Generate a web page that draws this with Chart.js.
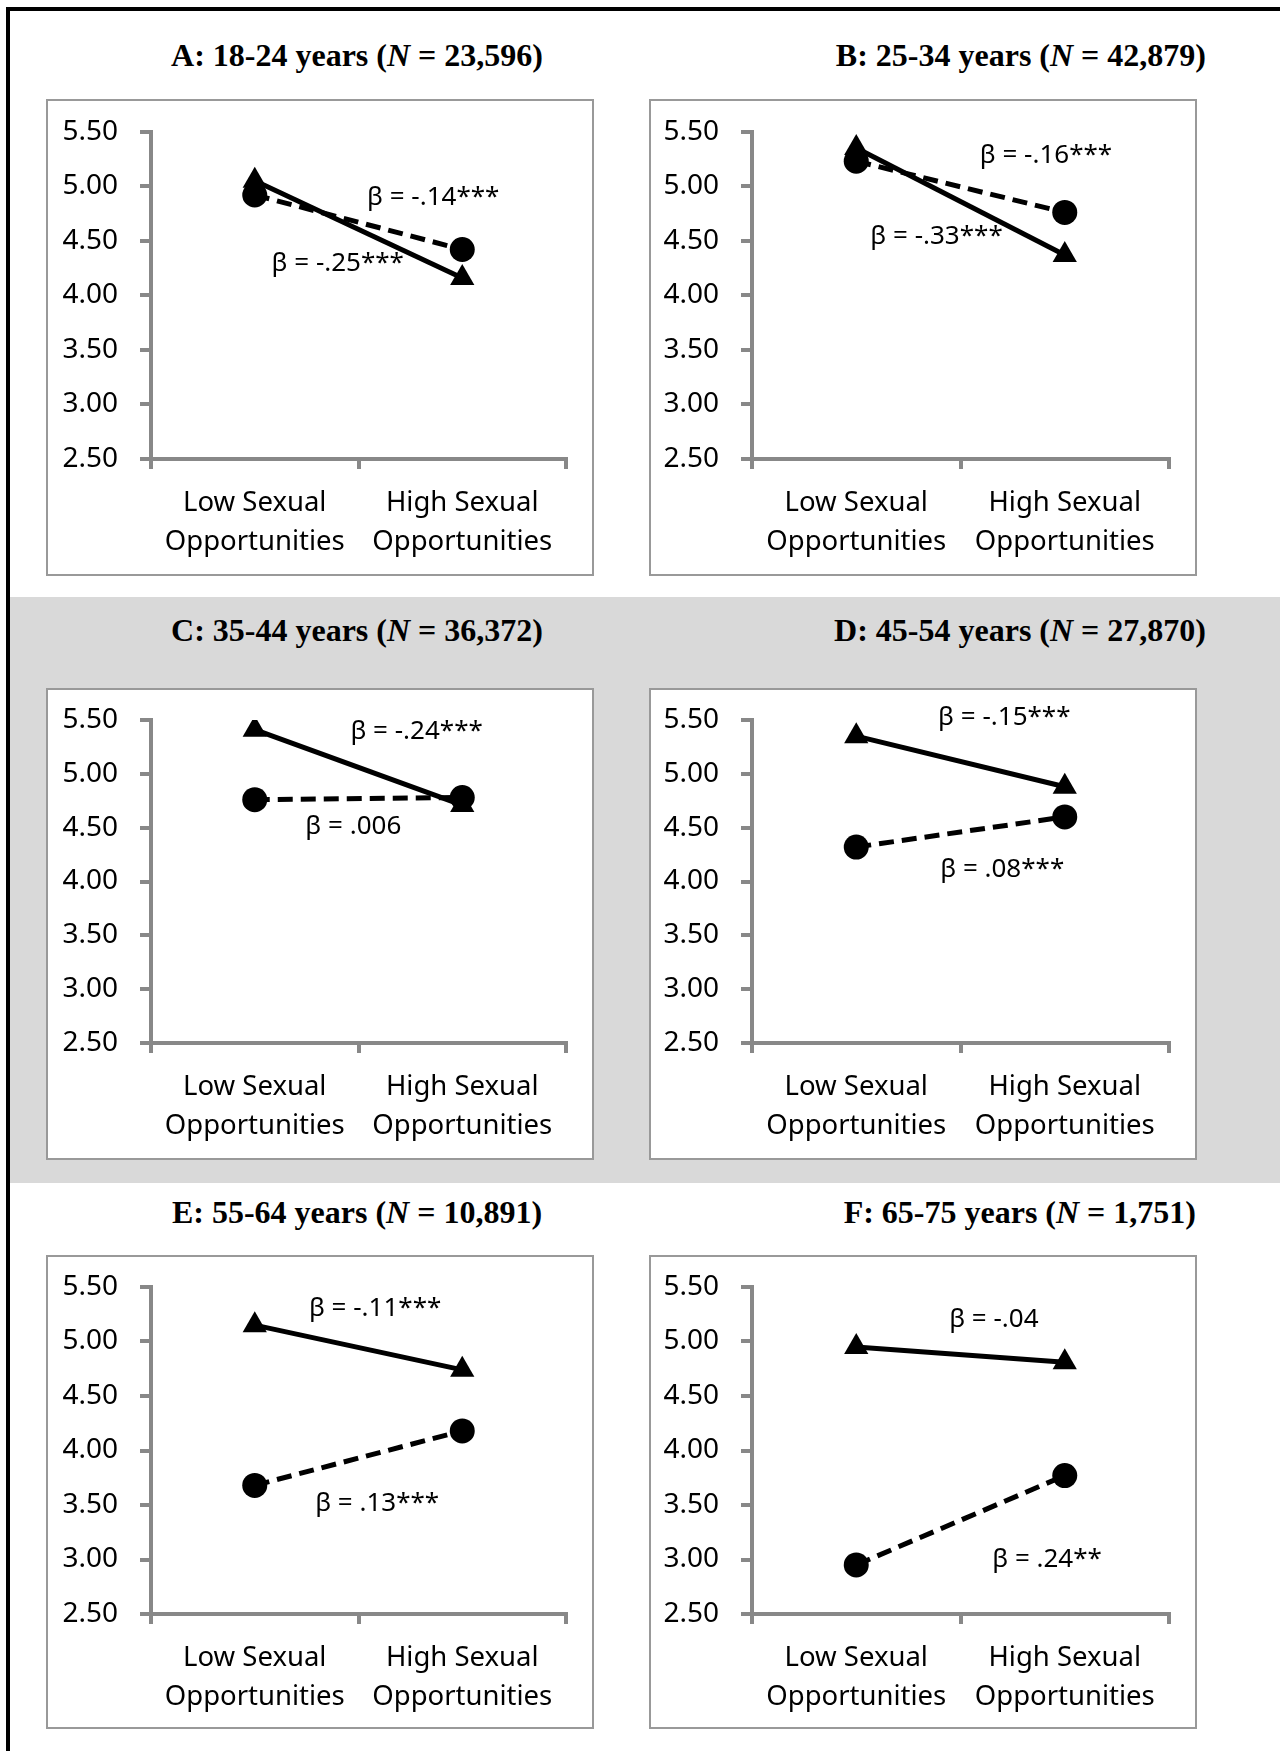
<!DOCTYPE html>
<html>
<head>
<meta charset="utf-8">
<script src="https://cdn.jsdelivr.net/npm/chart.js@4.4.1/dist/chart.umd.min.js"></script>
<style>
  html, body { margin: 0; padding: 0; background: #fff; }
  body { position: relative; width: 1280px; height: 1751px; overflow: hidden; }
  .frame-left { position: absolute; left: 6px; top: 7px; width: 4px; height: 1744px; background: #000; }
  .frame-top { position: absolute; left: 6px; top: 7px; width: 1274px; height: 4px; background: #000; }
  .band { position: absolute; left: 10px; top: 597px; width: 1270px; height: 586px; background: #d9d9d9; }
  .title { position: absolute; height: 36px; line-height: 36px; font: bold 32px "Liberation Serif", "Times New Roman", serif; color: #000; white-space: nowrap; }
  .box { position: absolute; border: 2px solid #999; background: #fff; }
  .box canvas { display: block; }
</style>
</head>
<body>
<div class="frame-left"></div>
<div class="frame-top"></div>
<div class="band"></div>
<div id="panels"></div>

<script>
// ---- data ----
const categories = [["Low Sexual", "Opportunities"], ["High Sexual", "Opportunities"]];
const ageGroups = ["A: 18-24 years", "B: 25-34 years", "C: 35-44 years", "D: 45-54 years", "E: 55-64 years", "F: 65-75 years"];
const sampleSizes = ["23,596", "42,879", "36,372", "27,870", "10,891", "1,751"];

// solid line, triangle markers
const triangleSeries = [
  [5.05, 4.16],
  [5.35, 4.37],
  [5.41, 4.71],
  [5.35, 4.88],
  [5.15, 4.74],
  [4.95, 4.81]
];
// dashed line, circle markers
const circleSeries = [
  [4.92, 4.42],
  [5.23, 4.76],
  [4.76, 4.78],
  [4.32, 4.60],
  [3.68, 4.18],
  [2.95, 3.77]
];

const triangleBetas = ["β = -.25***", "β = -.33***", "β = -.24***", "β = -.15***", "β = -.11***", "β = -.04"];
const circleBetas = ["β = -.14***", "β = -.16***", "β = .006", "β = .08***", "β = .13***", "β = .24**"];
// where each beta label sits, in (category index, value) units
const triangleBetaAt = [[0.40, 4.29], [0.385, 4.54], [0.78, 5.39], [0.71, 5.52], [0.58, 5.30], [0.66, 5.20]];
const circleBetaAt = [[0.86, 4.90], [0.91, 5.28], [0.475, 4.51], [0.70, 4.11], [0.59, 3.51], [0.915, 3.00]];

const yMin = 2.5, yMax = 5.5, yStep = 0.5;

// ---- page layout ----
const rows = [
  { boxTop: 99, boxH: 477, plotTop: 131.7, plotBottom: 459, titleY: 55 },
  { boxTop: 688, boxH: 472, plotTop: 720, plotBottom: 1043, titleY: 630 },
  { boxTop: 1255, boxH: 474, plotTop: 1287, plotBottom: 1614, titleY: 1212 }
];
const cols = [
  { boxLeft: 46, boxW: 548, plotLeft: 151, plotRight: 566 },
  { boxLeft: 649, boxW: 548, plotLeft: 752, plotRight: 1169 }
];
const BORDER = 2;
const fontFamily = "'Noto Sans', 'Open Sans', sans-serif";

const betaLabels = {
  id: "betaLabels",
  afterDatasetsDraw(chart, args, opts) {
    const { ctx, scales: { x, y } } = chart;
    ctx.save();
    ctx.fillStyle = "#000";
    ctx.font = "26px " + fontFamily;
    ctx.textAlign = "center";
    ctx.textBaseline = "middle";
    opts.items.forEach(([text, pos]) => {
      ctx.fillText(text, x.getPixelForValue(pos[0]), y.getPixelForValue(pos[1]));
    });
    ctx.restore();
  }
};

const holder = document.getElementById("panels");

ageGroups.forEach((age, i) => {
  const row = rows[Math.floor(i / 2)];
  const col = cols[i % 2];

  const title = document.createElement("div");
  title.className = "title";
  title.innerHTML = age + " (<i>N</i> = " + sampleSizes[i] + ")";
  title.style.top = (row.titleY - 18) + "px";
  if (i % 2 === 0) {
    title.style.left = "157px";
    title.style.width = "400px";
    title.style.textAlign = "center";
  } else {
    title.style.left = "780px";
    title.style.width = (i === 5 ? 416 : 426) + "px";
    title.style.textAlign = "right";
  }
  holder.appendChild(title);

  const box = document.createElement("div");
  box.className = "box";
  const innerW = col.boxW - 2 * BORDER;
  const innerH = row.boxH - 2 * BORDER;
  box.style.left = col.boxLeft + "px";
  box.style.top = row.boxTop + "px";
  box.style.width = innerW + "px";
  box.style.height = innerH + "px";
  const canvas = document.createElement("canvas");
  canvas.width = innerW;
  canvas.height = innerH;
  box.appendChild(canvas);
  holder.appendChild(box);

  const padTop = row.plotTop - row.boxTop - BORDER;
  const xAxisH = innerH - (row.plotBottom - row.boxTop - BORDER);
  const yAxisW = col.plotLeft - col.boxLeft - BORDER;
  const padRight = innerW - (col.plotRight - col.boxLeft - BORDER);

  new Chart(canvas.getContext("2d"), {
    type: "line",
    data: {
      labels: categories,
      datasets: [
        {
          label: "triangle",
          data: triangleSeries[i],
          borderColor: "#000",
          backgroundColor: "#000",
          borderWidth: 5,
          pointStyle: "triangle",
          pointRadius: 14,
          pointBorderWidth: 0,
          pointBackgroundColor: "#000",
          tension: 0
        },
        {
          label: "circle",
          data: circleSeries[i],
          borderColor: "#000",
          backgroundColor: "#000",
          borderWidth: 5,
          borderDash: [15, 8],
          pointStyle: "circle",
          pointRadius: 12.5,
          pointBorderWidth: 0,
          pointBackgroundColor: "#000",
          tension: 0
        }
      ]
    },
    options: {
      responsive: false,
      animation: false,
      layout: { padding: { top: padTop, right: padRight, left: 0, bottom: 0 } },
      plugins: {
        legend: { display: false },
        tooltip: { enabled: false },
        betaLabels: {
          items: [[triangleBetas[i], triangleBetaAt[i]], [circleBetas[i], circleBetaAt[i]]]
        }
      },
      scales: {
        x: {
          type: "category",
          offset: true,
          grid: { offset: true, drawOnChartArea: false, color: "#888", lineWidth: 4, tickLength: 10 },
          border: { color: "#888", width: 4 },
          ticks: { color: "#000", font: { family: fontFamily, size: 27.5, lineHeight: 1.42 }, padding: 15, maxRotation: 0, autoSkip: false },
          afterFit: s => { s.height = xAxisH; }
        },
        y: {
          min: yMin,
          max: yMax,
          grid: { drawOnChartArea: false, color: "#888", lineWidth: 4, tickLength: 11 },
          border: { color: "#888", width: 4 },
          // small lineHeight keeps the label half-height from pushing the plot top down
          ticks: { stepSize: yStep, color: "#000", font: { family: fontFamily, size: 28, lineHeight: 0.4 }, padding: 22, callback: v => v.toFixed(2) },
          afterFit: s => { s.width = yAxisW; }
        }
      }
    },
    plugins: [betaLabels]
  });
});
</script>
</body>
</html>
